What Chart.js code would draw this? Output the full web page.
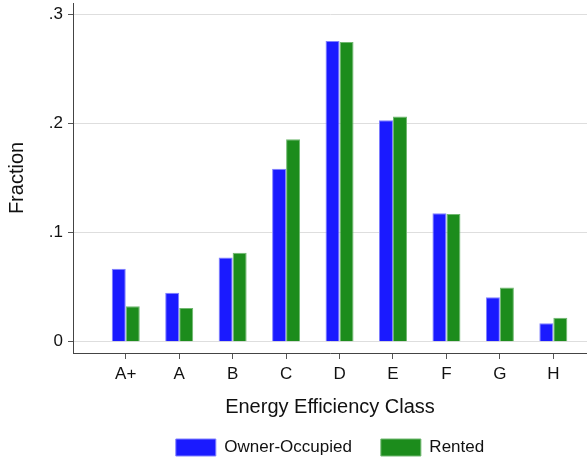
<!DOCTYPE html>
<html>
<head>
<meta charset="utf-8">
<script src="https://cdn.jsdelivr.net/npm/chart.js@4"></script>
<style>
  html, body { margin: 0; padding: 0; background: #fff; }
  #chart { display: block; }
</style>
</head>
<body>
<canvas id="chart" width="587" height="465"></canvas>
<script>
const categories = ['A+', 'A', 'B', 'C', 'D', 'E', 'F', 'G', 'H'];
const ownerOccupied = [0.0668, 0.0448, 0.0772, 0.1583, 0.2754, 0.2028, 0.1175, 0.0406, 0.0168];
const rented = [0.0324, 0.0308, 0.0814, 0.1854, 0.2745, 0.2062, 0.1168, 0.0497, 0.0220];
const yTicks = [0, 0.1, 0.2, 0.3];
const yTickLabels = ['0', '.1', '.2', '.3'];

const font = 'Liberation Sans';
const ink = '#111';

new Chart(document.querySelector('#chart').getContext('2d'), {
    type: 'bar',
    data: {
        datasets: [
            {
                label: 'Owner-Occupied',
                data: ownerOccupied.map((v, i) => ({ x: i, y: v })),
                backgroundColor: '#1a1aff',
                borderColor: '#8080ff',
                borderWidth: 1
            },
            {
                label: 'Rented',
                data: rented.map((v, i) => ({ x: i, y: v })),
                backgroundColor: '#1c8c1c',
                borderColor: '#70b870',
                borderWidth: 1
            }
        ]
    },
    options: {
        responsive: false,
        animation: false,
        devicePixelRatio: 1,
        categoryPercentage: 0.524,
        barPercentage: 1,
        layout: { padding: { top: 3, left: 0, right: 0, bottom: 0 } },
        plugins: {
            tooltip: { enabled: false },
            legend: {
                position: 'bottom',
                fullSize: false,
                maxHeight: 55,
                labels: {
                    boxWidth: 40,
                    boxHeight: 17,
                    padding: 29,
                    color: ink,
                    font: { family: font, size: 17 }
                }
            }
        },
        scales: {
            x: {
                type: 'linear',
                offset: false,
                min: -0.987,
                max: 8.63,
                afterBuildTicks: s => { s.ticks = categories.map((c, i) => ({ value: i })); },
                afterFit: s => { s.height = 57; s.paddingLeft = 0; s.paddingRight = 0; },
                ticks: {
                    autoSkip: false,
                    maxRotation: 0,
                    padding: 5,
                    color: ink,
                    font: { family: font, size: 17 },
                    callback: v => categories[v]
                },
                grid: { offset: false, drawOnChartArea: false, tickLength: 6, color: '#555' },
                border: { color: '#444', width: 1 },
                title: {
                    display: true,
                    text: 'Energy Efficiency Class',
                    color: ink,
                    font: { family: font, size: 20 },
                    padding: { top: 0, bottom: -9 }
                }
            },
            y: {
                min: -0.01035,
                max: 0.3101,
                afterBuildTicks: s => { s.ticks = yTicks.map(v => ({ value: v })); },
                afterFit: s => { s.width = 73; s.paddingTop = 0; s.paddingBottom = 0; },
                ticks: {
                    padding: 5,
                    color: ink,
                    font: { family: font, size: 17 },
                    callback: (v, i) => yTickLabels[i]
                },
                grid: { color: '#dedede', tickColor: '#555', tickLength: 5 },
                border: { color: '#444', width: 1 },
                title: {
                    display: true,
                    text: 'Fraction',
                    color: ink,
                    font: { family: font, size: 20 },
                    padding: { top: 5.5, bottom: 0 }
                }
            }
        }
    }
});
</script>
</body>
</html>
